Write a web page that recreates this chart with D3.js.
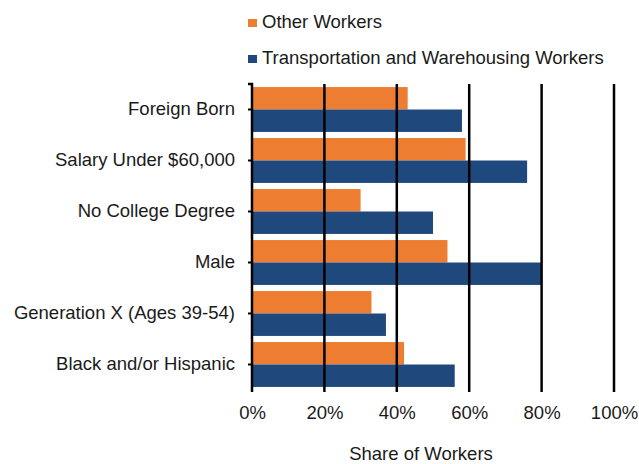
<!DOCTYPE html>
<html>
<head>
<meta charset="utf-8">
<script src="https://cdn.jsdelivr.net/npm/d3@7"></script>
<style>
  body { margin: 0; background: #fff; }
  svg { display: block; font-family: Arial, "Liberation Sans", sans-serif; }
</style>
</head>
<body>
<svg id="chart" width="639" height="464"></svg>
<script>
const categories = ['Foreign Born', 'Salary Under $60,000', 'No College Degree', 'Male', 'Generation X (Ages 39-54)', 'Black and/or Hispanic'];
const seriesNames = ['Other Workers', 'Transportation and Warehousing Workers'];
const otherWorkers = [43, 59, 30, 54, 33, 42];
const transportWorkers = [58, 76, 50, 80, 37, 56];
const xTicks = [0, 20, 40, 60, 80, 100];
const colors = ['#ED7D31', '#1F497D'];

const svg = d3.select('#chart');
const plotLeft = 252, plotRight = 614, plotTop = 84, plotBottom = 390;
const fontSize = 18.5;
const textColor = '#1a1a1a';

const x = d3.scaleLinear().domain([0, 100]).range([plotLeft, plotRight]);
const y = d3.scaleBand().domain(categories).range([plotTop, plotBottom]).paddingInner(0.12).paddingOuter(0.06);
const ySub = d3.scaleBand().domain(seriesNames).range([0, y.bandwidth()]);

const rows = categories.map((c, i) => ({ cat: c, vals: [otherWorkers[i], transportWorkers[i]] }));

// bars
const groups = svg.selectAll('g.cat')
    .data(rows)
    .enter()
    .append('g')
    .attr('class', 'cat')
    .attr('transform', d => `translate(0,${y(d.cat)})`);

groups.selectAll('rect')
    .data(d => d.vals.map((v, j) => ({ name: seriesNames[j], v, j })))
    .enter()
    .append('rect')
    .attr('x', x(0))
    .attr('y', d => ySub(d.name))
    .attr('width', d => x(d.v) - x(0))
    .attr('height', ySub.bandwidth())
    .attr('fill', d => colors[d.j]);

// gridlines (drawn over bars, like the reference)
svg.append('g')
    .selectAll('line')
    .data(xTicks.slice(1))
    .enter()
    .append('line')
    .attr('x1', d => x(d)).attr('x2', d => x(d))
    .attr('y1', plotTop).attr('y2', plotBottom + 2)
    .attr('stroke', '#000')
    .attr('stroke-width', 2.5);

// left axis
const yAxis = svg.append('g')
    .attr('transform', `translate(${plotLeft},0)`)
    .call(d3.axisLeft(y).tickSize(4).tickPadding(13));
yAxis.select('.domain').attr('stroke-width', 2.5).attr('d', `M-4,${plotTop}H0V${plotBottom + 2}`);
yAxis.selectAll('.tick line').attr('stroke-width', 2);
yAxis.selectAll('.tick text').attr('font-size', fontSize).attr('fill', textColor)
    .attr('font-family', 'Arial, "Liberation Sans", sans-serif');

// x tick labels
const xAxis = svg.append('g')
    .attr('transform', `translate(0,${plotBottom})`)
    .call(d3.axisBottom(x).tickValues(xTicks).tickFormat(d => d + '%').tickSize(0).tickPadding(16));
xAxis.select('.domain').remove();
xAxis.selectAll('.tick text').attr('font-size', fontSize).attr('fill', textColor)
    .attr('font-family', 'Arial, "Liberation Sans", sans-serif');

// axis title
svg.append('text')
    .attr('x', 421)
    .attr('y', 460)
    .attr('text-anchor', 'middle')
    .attr('font-size', fontSize)
    .attr('fill', textColor)
    .text('Share of Workers');

// legend
const legend = svg.append('g')
    .selectAll('g')
    .data(seriesNames)
    .enter()
    .append('g')
    .attr('transform', (d, i) => `translate(248,${19 + i * 36})`);
legend.append('rect')
    .attr('width', 9).attr('height', 8)
    .attr('fill', (d, i) => colors[i]);
legend.append('text')
    .attr('x', 14)
    .attr('y', 9)
    .attr('font-size', fontSize)
    .attr('fill', textColor)
    .text(d => d);
</script>
</body>
</html>
